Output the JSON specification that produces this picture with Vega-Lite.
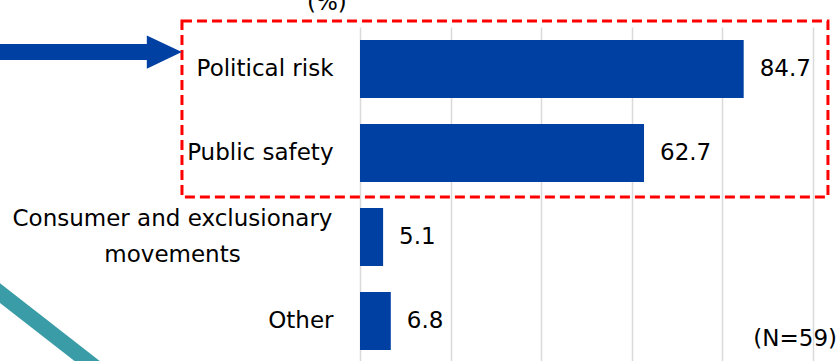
{
  "$schema": "https://vega.github.io/schema/vega-lite/v6.json",
  "width": 453,
  "height": 336,
  "autosize": {"type": "none"},
  "padding": {"left": 360, "top": 27, "right": 26, "bottom": 0},
  "background": "white",
  "config": {"view": {"stroke": null}, "font": "DejaVu Sans"},
  "layer": [
    {
      "data": {"values": [
        {"cat": "Political risk", "value": 84.7},
        {"cat": "Public safety", "value": 62.7},
        {"cat": "Consumer and exclusionary movements", "value": 5.1},
        {"cat": "Other", "value": 6.8}
      ]},
      "layer": [
        {
          "mark": {"type": "bar", "color": "#0040A3"},
          "encoding": {
            "x": {"field": "value", "type": "quantitative", "scale": {"domain": [0, 100], "nice": false},
              "axis": {"values": [0, 20, 40, 60, 80, 100], "labels": false, "ticks": false, "domain": false, "title": null, "grid": true, "gridColor": "#d9d9d9", "gridWidth": 1.5}},
            "y": {"field": "cat", "type": "nominal", "sort": null,
              "scale": {"domain": ["Political risk", "Public safety", "Consumer and exclusionary movements", "Other"], "paddingInner": 0.31, "paddingOuter": 0.155},
              "axis": {"title": null, "ticks": false, "domain": false, "labelFontSize": 23, "labelColor": "#000000", "labelLimit": 0, "labelFont": "DejaVu Sans", "labelLineHeight": 36,
                "labelExpr": "datum.value == 'Consumer and exclusionary movements' ? ['Consumer and exclusionary', 'movements'] : datum.label",
                "labelAlign": {"condition": {"test": "datum.value == 'Consumer and exclusionary movements'", "value": "center"}, "value": "right"},
                "labelPadding": {"condition": {"test": "datum.value == 'Consumer and exclusionary movements'", "value": 188}, "value": 27},
                "labelOffset": {"condition": {"test": "datum.value == 'Consumer and exclusionary movements'", "value": -18}, "value": 0}}}
          }
        },
        {
          "mark": {"type": "text", "align": "left", "baseline": "middle", "dx": 16, "fontSize": 23, "color": "#000000", "font": "DejaVu Sans"},
          "encoding": {
            "x": {"field": "value", "type": "quantitative", "scale": {"domain": [0, 100], "nice": false}},
            "y": {"field": "cat", "type": "nominal", "sort": null},
            "text": {"field": "value", "type": "quantitative", "format": ".1f"}
          }
        }
      ]
    },
    {
      "data": {"values": [{"x": -39.3, "x2": 103.3, "c1": "Political risk", "c2": "Public safety"}]},
      "mark": {"type": "rect", "fill": null, "filled": false, "stroke": "#FF0000", "strokeWidth": 3, "strokeDash": [10, 5], "yOffset": -19, "y2Offset": 44},
      "encoding": {
        "x": {"field": "x", "type": "quantitative", "scale": {"domain": [0, 100], "nice": false}},
        "x2": {"field": "x2"},
        "y": {"field": "c1", "type": "nominal", "bandPosition": 0},
        "y2": {"field": "c2"}
      }
    },
    {
      "data": {"values": [{"x": -85, "x2": -45, "c": "Political risk"}]},
      "mark": {"type": "rule", "color": "#0040A3", "strokeWidth": 16, "yOffset": -17},
      "encoding": {
        "x": {"field": "x", "type": "quantitative", "scale": {"domain": [0, 100], "nice": false}},
        "x2": {"field": "x2"},
        "y": {"field": "c", "type": "nominal"}
      }
    },
    {
      "data": {"values": [{"x": -43.2, "c": "Political risk"}]},
      "mark": {"type": "point", "shape": "M -1 -0.95 L 1 0 L -1 0.95 Z", "size": 1225, "filled": true, "color": "#0040A3", "opacity": 1, "strokeWidth": 0, "yOffset": -17},
      "encoding": {
        "x": {"field": "x", "type": "quantitative", "scale": {"domain": [0, 100], "nice": false}},
        "y": {"field": "c", "type": "nominal"}
      }
    },
    {
      "data": {"values": [{"x": -85, "x2": -55, "c1": "Other", "c2": "Other"}]},
      "mark": {"type": "rule", "color": "#3A9CA6", "strokeWidth": 15.5, "yOffset": -18.5, "y2Offset": 58.5},
      "encoding": {
        "x": {"field": "x", "type": "quantitative", "scale": {"domain": [0, 100], "nice": false}},
        "x2": {"field": "x2"},
        "y": {"field": "c1", "type": "nominal", "bandPosition": 0},
        "y2": {"field": "c2"}
      }
    },
    {
      "data": {"values": [{"x": 105.3, "c": "Other", "t": "(N=59)"}]},
      "mark": {"type": "text", "align": "right", "baseline": "middle", "fontSize": 23, "color": "#000000", "font": "DejaVu Sans", "yOffset": 18},
      "encoding": {
        "x": {"field": "x", "type": "quantitative", "scale": {"domain": [0, 100], "nice": false}},
        "y": {"field": "c", "type": "nominal"},
        "text": {"field": "t"}
      }
    },
    {
      "data": {"values": [{"x": -7.3, "c": "Political risk", "t": "(%)"}]},
      "mark": {"type": "text", "align": "center", "baseline": "alphabetic", "fontSize": 23, "color": "#000000", "font": "DejaVu Sans", "yOffset": -59},
      "encoding": {
        "x": {"field": "x", "type": "quantitative", "scale": {"domain": [0, 100], "nice": false}},
        "y": {"field": "c", "type": "nominal"},
        "text": {"field": "t"}
      }
    }
  ]
}
